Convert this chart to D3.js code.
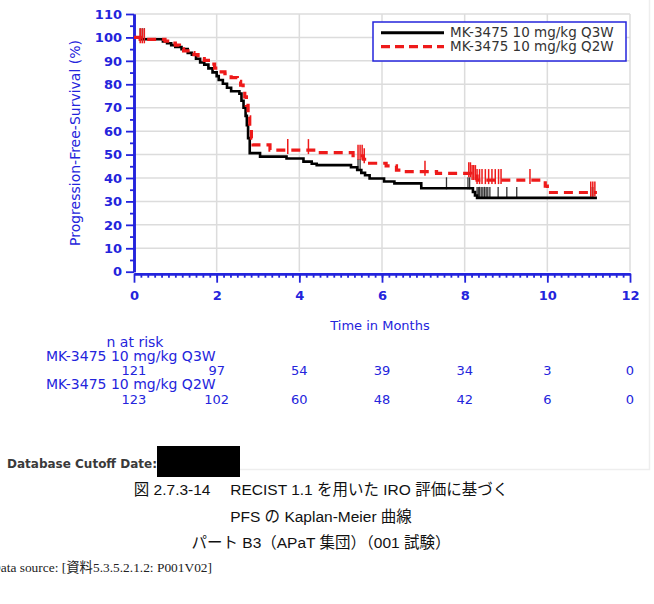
<!DOCTYPE html>
<html><head><meta charset="utf-8">
<script src="https://cdn.jsdelivr.net/npm/d3@7"></script>
<style>
html,body{margin:0;padding:0;background:#fff;}
svg{display:block;}
</style></head>
<body>
<svg id="chart" width="654" height="604"></svg>
<script>
// ---- data ----
const xTicks = [0, 2, 4, 6, 8, 10, 12];
const yTicks = [0, 10, 20, 30, 40, 50, 60, 70, 80, 90, 100, 110];
const seriesNames = ["MK-3475 10 mg/kg Q3W", "MK-3475 10 mg/kg Q2W"];
const followUpEnd = 11.2;

const q3wTimes = [0, 0.15, 0.7, 0.8, 0.9, 1.0, 1.15, 1.3, 1.4, 1.5, 1.6, 1.7, 1.8, 1.9, 2.0, 2.05, 2.15, 2.25, 2.35, 2.55, 2.6, 2.65, 2.7, 2.73, 2.76, 2.8, 3.05, 3.69, 4.1, 4.3, 4.42, 5.25, 5.4, 5.5, 5.59, 5.7, 6.05, 6.3, 6.95, 8.2, 8.25, 8.3];
const q3wSurv  = [100, 99.2, 98.3, 97.5, 96.7, 95.9, 95.0, 93.4, 92.6, 90.9, 89.3, 88.4, 86.8, 85.1, 83.5, 81.8, 80.2, 78.5, 77.0, 76.0, 73.0, 70.0, 66.5, 62.5, 57.0, 50.6, 49.1, 48.3, 47.0, 46.1, 45.5, 44.6, 43.4, 42.2, 41.2, 39.8, 38.5, 37.7, 35.6, 34.0, 32.5, 31.5];
const q3wCensor = [0.15, 0.2, 0.25, 5.42, 5.47, 7.56, 8.08, 8.12, 8.3, 8.33, 8.36, 8.4, 8.44, 8.48, 8.52, 8.56, 8.61, 8.81, 9.02, 9.26, 11.05, 11.1];

const q2wTimes = [0, 0.15, 0.75, 0.9, 1.0, 1.1, 1.2, 1.35, 1.45, 1.55, 1.7, 1.8, 1.95, 2.05, 2.2, 2.35, 2.5, 2.58, 2.64, 2.68, 2.72, 2.76, 2.8, 2.84, 2.88, 3.29, 4.45, 5.3, 5.55, 5.7, 6.1, 6.35, 6.5, 7.32, 8.15, 8.3, 9.95, 10.0];
const q2wSurv  = [100, 99.2, 98.4, 97.6, 96.7, 95.1, 94.3, 93.5, 92.7, 91.0, 90.2, 88.6, 86.9, 85.3, 84.5, 82.8, 81.2, 79.6, 77.1, 74.6, 71.0, 66.1, 61.5, 57.0, 54.1, 51.9, 50.8, 49.5, 48.0, 46.3, 45.2, 43.4, 42.7, 42.0, 40.8, 39.1, 36.5, 33.8];
const q2wCensor = [0.15, 0.2, 0.25, 3.72, 4.22, 5.42, 5.47, 5.52, 5.57, 7.04, 8.1, 8.14, 8.18, 8.22, 8.26, 8.3, 8.36, 8.42, 8.5, 8.58, 8.66, 8.74, 8.82, 8.88, 9.58, 11.05, 11.1, 11.15];

const riskTimes = [0, 2, 4, 6, 8, 10, 12];
const q3wAtRisk = [121, 97, 54, 39, 34, 3, 0];
const q2wAtRisk = [123, 102, 60, 48, 42, 6, 0];

const captionLines = ["図  2.7.3-14　 RECIST 1.1 を用いた IRO 評価に基づく", "PFS の Kaplan-Meier 曲線", "パート B3（APaT 集団）（001 試験）"];
const dataSource = "Data source: [資料5.3.5.2.1.2: P001V02]";

// ---- drawing ----
const BLUE = "#2424dc";
const FONT = "'DejaVu Sans', Verdana, sans-serif";
const svg = d3.select("#chart");
const x = d3.scaleLinear().domain([0, 12]).range([134, 630]);
const y = d3.scaleLinear().domain([0, 110]).range([271.7, 14]);

// faint frame of the chart image
svg.append("path").attr("d", "M240,469.5 H649.5 V0").attr("fill", "none").attr("stroke", "#eeeeee").attr("stroke-width", 1.5);

// gridlines
const grid = svg.append("g");
grid.selectAll("line.v").data(xTicks.filter(d => d > 0)).join("line")
  .attr("x1", d => x(d)).attr("x2", d => x(d)).attr("y1", y(110)).attr("y2", y(0))
  .attr("stroke", "#dcdcdc").attr("stroke-width", 1.5);
grid.selectAll("line.h").data(yTicks.filter(d => d > 0)).join("line")
  .attr("x1", x(0)).attr("x2", x(12)).attr("y1", d => y(d)).attr("y2", d => y(d))
  .attr("stroke", "#dcdcdc").attr("stroke-width", 1.5);

// axes
const yAxis = svg.append("g").attr("transform", `translate(${x(0)},0)`)
  .call(d3.axisLeft(y).tickValues(yTicks).tickSize(8).tickSizeOuter(0).tickPadding(4));
const yMinor = svg.append("g").attr("transform", `translate(${x(0)},0)`)
  .call(d3.axisLeft(y).tickValues(d3.range(5, 110, 10)).tickSize(4).tickSizeOuter(0).tickFormat(""));
const xAxis = svg.append("g").attr("transform", `translate(0,${y(0) + 2})`)
  .call(d3.axisBottom(x).tickValues(xTicks).tickSize(9).tickSizeOuter(0).tickPadding(6));
const xMinor = svg.append("g").attr("transform", `translate(0,${y(0) + 2})`)
  .call(d3.axisBottom(x).tickValues(d3.range(1, 72).map(i => i / 6)).tickSize(4).tickSizeOuter(0).tickFormat(""));
[yAxis, yMinor, xAxis, xMinor].forEach(g => {
  g.selectAll("path.domain").attr("stroke", BLUE).attr("stroke-width", 2.6);
  g.selectAll(".tick line").attr("stroke", BLUE).attr("stroke-width", 1.8);
  g.selectAll(".tick text").attr("fill", BLUE).attr("font-family", FONT).attr("font-size", 13).attr("font-weight", 600);
});
xAxis.selectAll(".tick text").attr("dy", "0.9em");

// axis titles
svg.append("text").attr("transform", `translate(80,143) rotate(-90)`)
  .attr("text-anchor", "middle").attr("fill", BLUE).attr("font-family", FONT).attr("font-size", 14)
  .text("Progression-Free-Survival (%)");
svg.append("text").attr("x", 380).attr("y", 330).attr("text-anchor", "middle")
  .attr("fill", BLUE).attr("font-family", FONT).attr("font-size", 13).text("Time in Months");

// curves
function stepData(times, surv) {
  const pts = times.map((t, i) => [t, surv[i]]);
  pts.push([followUpEnd, surv[surv.length - 1]]);
  return pts;
}
function survAt(times, surv, t) {
  let v = surv[0];
  for (let i = 0; i < times.length; i++) if (times[i] <= t) v = surv[i];
  return v;
}
const line = d3.line().x(d => x(d[0])).y(d => y(d[1])).curve(d3.curveStepAfter);

// censor marks
function censors(times, surv, cens, color, up, down, w) {
  svg.append("g").selectAll("line").data(cens).join("line")
    .attr("x1", d => x(d)).attr("x2", d => x(d))
    .attr("y1", d => y(survAt(times, surv, d)) - up)
    .attr("y2", d => y(survAt(times, surv, d)) + down)
    .attr("stroke", color).attr("stroke-width", w);
}
censors(q3wTimes, q3wSurv, q3wCensor, "#333", 11, 1, 1.3);
svg.append("path").datum(stepData(q3wTimes, q3wSurv)).attr("d", line)
  .attr("fill", "none").attr("stroke", "#000").attr("stroke-width", 2.6);
censors(q2wTimes, q2wSurv, q2wCensor, "#ee1a1a", 11, 4, 1.5);
svg.append("path").datum(stepData(q2wTimes, q2wSurv)).attr("d", line)
  .attr("fill", "none").attr("stroke", "#ee1a1a").attr("stroke-width", 3.2).attr("stroke-dasharray", "9,6");

// legend
const lg = svg.append("g");
lg.append("rect").attr("x", 373).attr("y", 22).attr("width", 253).attr("height", 39)
  .attr("fill", "#fff").attr("stroke", BLUE).attr("stroke-width", 1.5);
const legendItems = [{name: seriesNames[0], color: "#000", dash: null, w: 3}, {name: seriesNames[1], color: "#ee1a1a", dash: "9,5", w: 3.2}];
legendItems.forEach((it, i) => {
  const ly = 32.7 + i * 14;
  lg.append("line").attr("x1", 381).attr("x2", 444).attr("y1", ly).attr("y2", ly)
    .attr("stroke", it.color).attr("stroke-width", it.w).attr("stroke-dasharray", it.dash);
  lg.append("text").attr("x", 450).attr("y", ly).attr("dy", "0.35em")
    .attr("font-family", FONT).attr("font-size", 13.5).attr("fill", "#333").text(it.name);
});

// risk table
const rt = svg.append("g").attr("fill", BLUE).attr("font-family", FONT).attr("font-size", 13);
rt.append("text").attr("x", 135).attr("y", 342).attr("dy", "0.35em").attr("text-anchor", "middle").attr("font-size", 14).text("n at risk");
rt.append("text").attr("x", 46).attr("y", 356).attr("dy", "0.35em").attr("font-size", 14).text(seriesNames[0]);
rt.selectAll("text.r1").data(q3wAtRisk).join("text").attr("class", "r1")
  .attr("x", (d, i) => x(riskTimes[i])).attr("y", 370).attr("dy", "0.35em").attr("text-anchor", "middle").text(d => d);
rt.append("text").attr("x", 46).attr("y", 384).attr("dy", "0.35em").attr("font-size", 14).text(seriesNames[1]);
rt.selectAll("text.r2").data(q2wAtRisk).join("text").attr("class", "r2")
  .attr("x", (d, i) => x(riskTimes[i])).attr("y", 399).attr("dy", "0.35em").attr("text-anchor", "middle").text(d => d);

// footer
svg.append("text").attr("x", 7).attr("y", 464).attr("dy", "0.35em")
  .attr("font-family", FONT).attr("font-size", 12).attr("font-weight", "bold").attr("fill", "#3a3a3a")
  .text("Database Cutoff Date:");
svg.append("rect").attr("x", 157).attr("y", 446).attr("width", 83).attr("height", 31).attr("fill", "#000");

const CAP = "'Liberation Sans', Arial, 'Noto Sans CJK JP', sans-serif";
const capY = [490, 517, 543];
captionLines.forEach((t, i) => {
  svg.append("text").attr("x", 321).attr("y", capY[i]).attr("dy", "0.35em").attr("text-anchor", "middle")
    .attr("font-family", CAP).attr("font-size", 15.5).attr("fill", "#111").text(t);
});
svg.append("text").attr("x", 212).attr("y", 567).attr("dy", "0.35em").attr("text-anchor", "end")
  .attr("font-family", "'Liberation Serif', 'Times New Roman', 'Noto Sans CJK JP', serif").attr("font-size", 13.4).attr("fill", "#222")
  .text(dataSource);
</script>
</body></html>
